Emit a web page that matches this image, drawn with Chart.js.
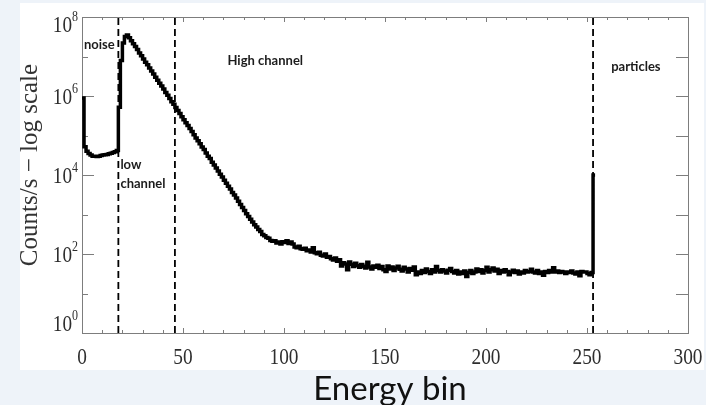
<!DOCTYPE html>
<html>
<head>
<meta charset="utf-8">
<script src="https://cdn.jsdelivr.net/npm/chart.js@4.4.0/dist/chart.umd.min.js"></script>
<style>
  html, body { margin: 0; padding: 0; background: #eef3f9; }
  #panel { position: absolute; left: 20px; top: 3px; width: 684px; height: 367px; background: #fff; }
  #chart { position: absolute; left: 0; top: 0; }
</style>
</head>
<body>
<div id="panel"></div>
<canvas id="chart" width="706" height="405"></canvas>
<script>
// counts per energy bin (0..253)
const counts = [
  890000, 52000, 40000, 35000, 32000, 30000, 30000, 29500, 30000, 31000,
  32000, 32500, 33000, 34500, 35500, 37000, 39000, 42000, 520000, 7900000,
  22000000, 32000000, 35000000, 30000000, 25000000, 21000000, 18000000, 15000000, 12300000, 10500000,
  8700000, 7200000, 6200000, 5100000, 4300000, 3600000, 3000000, 2500000, 2100000, 1800000,
  1500000, 1230000, 1050000, 870000, 720000, 620000, 510000, 430000, 360000, 300000,
  250000, 210000, 180000, 150000, 126000, 105000, 87000, 74000, 62000, 51000,
  44000, 36000, 30000, 26000, 21000, 18000, 15000, 12600, 10500, 8900,
  7400, 6200, 5200, 4400, 3600, 3100, 2600, 2150, 1800, 1500,
  1260, 1050, 890, 760, 650, 550, 480, 420, 370, 310,
  290, 260, 250, 220, 210, 215, 190, 200, 180, 205,
  195, 215, 185, 200, 178, 150, 145, 158, 135, 132,
  140, 120, 126, 112, 145, 107, 102, 110, 93, 89,
  100, 83, 87, 76, 71, 79, 66, 72, 50, 60,
  56, 40, 63, 55, 48, 58, 51, 46, 54, 49,
  44, 62, 47, 42, 50, 46, 52, 43, 48, 40,
  36, 50, 42, 47, 38, 44, 49, 41, 37, 46,
  42, 35, 43, 39, 47, 30, 35, 32, 38, 34,
  42, 36, 32, 40, 35, 48, 38, 35, 40, 37,
  33, 39, 43, 36, 33, 38, 31, 35, 32, 37,
  27, 34, 38, 32, 35, 42, 36, 40, 33, 38,
  46, 35, 40, 44, 37, 41, 32, 38, 35, 40,
  36, 30, 35, 39, 34, 37, 31, 35, 33, 38,
  35, 36, 41, 35, 33, 38, 32, 35, 29, 36,
  34, 38, 35, 45, 35, 37, 34, 36, 35, 32,
  35, 34, 37, 33, 31, 35, 28, 36, 35, 35,
  32, 30, 34, 10000
];

// channel boundaries (dashed lines)
const dividerBins = [18, 46, 253];

// axis ticks
const xTickLabels = [0, 50, 100, 150, 200, 250, 300];
const yTickValues = [1, 1e2, 1e4, 1e6, 1e8];
const yTickExponents = ["0", "2", "4", "6", "8"];

// region names written on the plot
const regionNames = ["noise", "low", "channel", "High channel", "particles"];

// histogram outline: bin i spans [i, i+1]
const histPoints = counts.map((c, i) => ({ x: i, y: c }));
histPoints.push({ x: counts.length, y: counts[counts.length - 1] });

const datasets = [{
  data: histPoints,
  borderColor: "#000",
  borderWidth: 3.5,
  stepped: true,
  pointRadius: 0,
  borderJoinStyle: "miter"
}];
dividerBins.forEach(b => {
  datasets.push({
    data: [{ x: b, y: 1 }, { x: b, y: 1e8 }],
    borderColor: "#000",
    borderWidth: 1.8,
    borderDash: [7, 4],
    pointRadius: 0
  });
});

// frame, inward ticks, tick labels, titles and region names
const decorations = {
  id: "decorations",
  beforeDatasetsDraw(chart) {
    const { ctx, chartArea: a, scales: { x, y } } = chart;
    ctx.save();
    ctx.strokeStyle = "#7d7d7d";
    ctx.lineWidth = 1;
    ctx.strokeRect(a.left + 0.5, a.top + 0.5, a.right - a.left, a.bottom - a.top);
    ctx.beginPath();
    for (let v = 0; v <= 300; v += 10) {
      const px = Math.round(x.getPixelForValue(v)) + 0.5;
      const len = v % 50 === 0 ? 5 : 3;
      ctx.moveTo(px, a.bottom); ctx.lineTo(px, a.bottom - len);
      ctx.moveTo(px, a.top); ctx.lineTo(px, a.top + len);
    }
    for (let e = 0; e <= 8; e++) {
      const py = Math.round(y.getPixelForValue(Math.pow(10, e))) + 0.5;
      const len = e % 2 === 0 ? 12 : 6;
      ctx.moveTo(a.left, py); ctx.lineTo(a.left + len, py);
      ctx.moveTo(a.right, py); ctx.lineTo(a.right - 12, py);
    }
    ctx.stroke();
    ctx.restore();
  },
  afterDraw(chart) {
    const { ctx, chartArea: a, scales: { x, y } } = chart;
    ctx.save();
    ctx.fillStyle = "#2e2e2e";

    // x tick labels
    ctx.font = "23px 'Liberation Serif'";
    ctx.textAlign = "center";
    ctx.textBaseline = "alphabetic";
    xTickLabels.forEach(v => {
      ctx.save();
      ctx.translate(x.getPixelForValue(v), a.bottom + 31);
      ctx.scale(0.84, 1);
      ctx.fillText(String(v), 0, 0);
      ctx.restore();
    });

    // y tick labels 10^n
    yTickValues.forEach((v, i) => {
      let cy = y.getPixelForValue(v);
      cy = Math.min(Math.max(cy, a.top + 7), a.bottom - 10);
      ctx.save();
      ctx.translate(a.left - 10, cy);
      ctx.scale(0.8, 1);
      ctx.font = "24px 'Liberation Serif'";
      ctx.textAlign = "right";
      ctx.textBaseline = "middle";
      ctx.fillText("10", 0, 2);
      ctx.font = "15px 'Liberation Serif'";
      ctx.textAlign = "left";
      ctx.fillText(yTickExponents[i], 0, -7);
      ctx.restore();
    });

    // y axis title
    ctx.save();
    ctx.translate(30, 165);
    ctx.rotate(-Math.PI / 2);
    ctx.font = "25px 'Liberation Serif'";
    ctx.textAlign = "center";
    ctx.textBaseline = "middle";
    ctx.fillStyle = "#333";
    ctx.fillText("Counts/s \u2212 log scale", 0, 0);
    ctx.restore();

    // x axis title
    ctx.font = "33px Lato";
    ctx.textAlign = "center";
    ctx.textBaseline = "alphabetic";
    ctx.fillStyle = "#111";
    ctx.fillText("Energy bin", 390, 400);

    // region names, placed in data coordinates
    const spots = [[1, 2e7], [19, 1.8e4], [19, 6e3], [72, 8e6], [262, 5.4e6]];
    ctx.font = "bold 13px Lato";
    ctx.textAlign = "left";
    ctx.textBaseline = "middle";
    ctx.fillStyle = "#1c1c1c";
    regionNames.forEach((t, i) => {
      ctx.fillText(t, x.getPixelForValue(spots[i][0]), y.getPixelForValue(spots[i][1]));
    });
    ctx.restore();
  }
};

new Chart(document.getElementById("chart"), {
  type: "line",
  data: { datasets },
  options: {
    responsive: false,
    animation: false,
    layout: { padding: { left: 82, top: 17, right: 18, bottom: 72 } },
    plugins: { legend: { display: false }, tooltip: { enabled: false } },
    scales: {
      x: { type: "linear", min: 0, max: 300, display: false },
      y: { type: "logarithmic", min: 1, max: 1e8, display: false }
    }
  },
  plugins: [decorations]
});
</script>
</body>
</html>
